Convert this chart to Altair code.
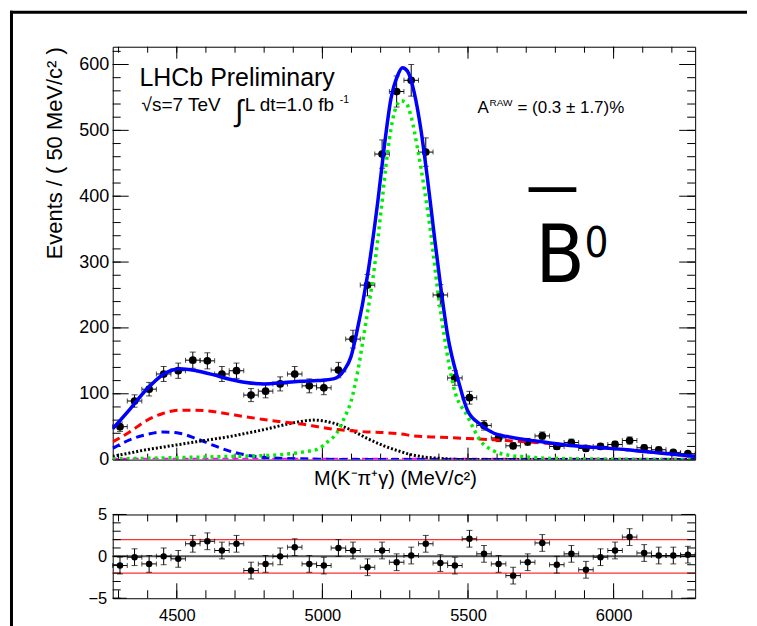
import altair as alt
import pandas as pd

# ---------------- data ----------------
bin_mass = [4305, 4355, 4405, 4455, 4505, 4555, 4605, 4655, 4705, 4755,
            4805, 4855, 4905, 4955, 5005, 5055, 5105, 5155, 5205, 5255,
            5305, 5355, 5405, 5455, 5505, 5555, 5605, 5655, 5705, 5755,
            5805, 5855, 5905, 5955, 6005, 6055, 6105, 6155, 6205, 6255]
events = [50, 89, 107, 130, 135, 151, 150, 130, 135, 98,
          104, 115, 130, 112, 109, 136, 183, 265, 464, 559,
          576, 467, 250, 124, 94, 52, 33, 21, 27, 36,
          20, 26, 17, 20, 23, 29, 18, 15, 11, 9]
events_err = [7.1, 9.4, 10.3, 11.4, 11.6, 12.3, 12.2, 11.4, 11.6, 9.9,
              10.2, 10.7, 11.4, 10.6, 10.4, 11.7, 13.5, 16.3, 21.5, 23.6,
              24.0, 21.6, 15.8, 11.1, 9.7, 7.2, 5.7, 4.6, 5.2, 6.0,
              4.5, 5.1, 4.1, 4.5, 4.8, 5.4, 4.2, 3.9, 3.3, 3.0]
pulls = [-1.1, -0.1, -0.9, 0.0, -0.3, 1.5, 1.8, 0.7, 1.5, -1.7,
         -0.9, 0.0, 1.1, -0.9, -1.1, 1.0, 0.7, -1.3, 0.7, -0.7,
         0.1, 1.5, -0.8, -1.1, 2.1, 0.3, -0.9, -2.3, -0.7, 1.6,
         -1.0, 0.3, -1.6, -0.1, 0.7, 2.3, 0.4, 0.1, 0.1, 0.2]
pull_err = [1.0] * 40
bin_half = 25

# total fit (blue solid)
total_m = [4280, 4338, 4395, 4452, 4509, 4566, 4624, 4681, 4738, 4800, 4870, 4927,
           4984, 5041, 5075, 5098, 5116, 5155, 5190, 5213, 5235, 5258, 5275, 5292,
           5315, 5338, 5361, 5384, 5407, 5430, 5468, 5498, 5544, 5589, 5635, 5703,
           5772, 5863, 5955, 6046, 6137, 6206, 6280]
total_v = [47, 76, 106, 129, 138, 135, 129, 122, 117, 115, 117, 119,
           120, 123, 136, 156, 189, 280, 391, 477, 547, 583, 595, 590,
           558, 502, 426, 341, 260, 189, 118, 75, 53, 40, 35, 30,
           26, 21, 18, 15, 11, 8, 5]
# signal (green dotted)
signal_m = [4280, 4400, 4500, 4600, 4700, 4800, 4870, 4940, 4984, 5018, 5052, 5075,
            5098, 5121, 5144, 5178, 5201, 5224, 5247, 5270, 5287, 5304, 5327, 5350,
            5373, 5395, 5418, 5452, 5498, 5544, 5589, 5635, 5703, 5772, 5900, 6280]
signal_v = [1, 2, 3, 4, 5, 6, 8, 12, 16, 27, 42, 63,
            88, 133, 194, 290, 376, 467, 527, 545, 542, 522, 472, 411,
            341, 260, 189, 108, 66, 28, 13, 7, 4, 2, 1, 0]
# red dashed background
red_m = [4280, 4338, 4395, 4452, 4509, 4566, 4624, 4681, 4738, 4783, 4813, 4870,
         4927, 4984, 5041, 5098, 5155, 5211, 5270, 5315, 5407, 5500, 5589, 5703,
         5818, 5932, 6046, 6160, 6280]
red_v = [27, 42, 59, 70, 75, 75, 73, 69, 65, 62, 60, 57,
         54, 50, 46, 44, 42, 41, 39, 36, 34, 32, 30, 27,
         23, 19, 15, 10, 5]
# blue dashed background
bdash_m = [4280, 4338, 4395, 4452, 4509, 4566, 4624, 4681, 4738, 4783, 4850, 4950, 5100, 6280]
bdash_v = [17, 30, 38, 42, 40, 32, 22, 13, 7, 4, 2, 1, 0, 0]
# black dotted background
black_m = [4280, 4338, 4395, 4452, 4509, 4566, 4624, 4681, 4738, 4783, 4813, 4870,
           4927, 4970, 5041, 5098, 5155, 5211, 5270, 5300, 5350, 5400, 5500, 6280]
black_v = [5, 10, 15, 19, 23, 27, 31, 35, 40, 44, 47, 53,
           58, 60, 55, 45, 32, 21, 12, 8, 4, 2, 0, 0]
# magenta dashed (flat, near zero)
mag_m = [4280, 6280]
mag_v = [1, 1]

main_y_major = [0, 100, 200, 300, 400, 500, 600]
main_y_minor = list(range(0, 621, 20))
x_major = [4500, 5000, 5500, 6000]
x_minor = list(range(4300, 6281, 100))
pull_y_major = [-5, 0, 5]
pull_y_minor = [-5, -4, -3, -2, -1, 0, 1, 2, 3, 4, 5]
pull_band = [-2, 2]
pull_zero = [0]

# ---------------- layout / style ----------------
W, H, PH = 584, 414, 84
FONT = "Liberation Sans"
BIGFONT = "Liberation Sans Narrow, DejaVu Sans Condensed, sans-serif"
x_scale = alt.Scale(domain=[4280, 6280], nice=False, zero=False)
y_scale = alt.Scale(domain=[0, 627], nice=False, zero=False)
py_scale = alt.Scale(domain=[-5, 5], nice=False, zero=False)

main_x_axis = alt.Axis(title="M(K⁻π⁺γ) (MeV/c²)", labels=False, ticks=False, domain=False,
                       grid=False, titleFontSize=20, titlePadding=9, titleX=283)
main_y_axis = alt.Axis(title="Events / ( 50 MeV/c² )", values=main_y_major, ticks=False,
                       domain=False, grid=False, labelFontSize=18, labelPadding=4,
                       titleFontSize=22, titleAnchor="end", titlePadding=12)
pull_x_axis = alt.Axis(title=None, values=x_major, format="d", ticks=False, domain=False,
                       grid=False, labelFontSize=16.5, labelPadding=9)
pull_y_axis = alt.Axis(title=None, values=pull_y_major, ticks=False, domain=False,
                       grid=False, labelFontSize=16.5, labelPadding=6)


def X(field, axis):
    return alt.X(field, type="quantitative", scale=x_scale, axis=axis)


def Y(field, scale, axis):
    return alt.Y(field, type="quantitative", scale=scale, axis=axis)


def curve(m, v, color, width, dash=None):
    df = pd.DataFrame({"x": m, "y": v})
    kw = dict(color=color, strokeWidth=width, interpolate="monotone", clip=True)
    if dash:
        kw["strokeDash"] = dash
    return alt.Chart(df).mark_line(**kw).encode(x=X("x", main_x_axis), y=Y("y", y_scale, main_y_axis))


def data_layers(values, errs, yscale, yaxis, xaxis, size):
    df = pd.DataFrame({"x": bin_mass, "y": values, "e": errs})
    base = alt.Chart(df).transform_calculate(
        lo="datum.y - datum.e", hi="datum.y + datum.e",
        xlo=f"datum.x - {bin_half}", xhi=f"datum.x + {bin_half}")
    vbar = base.mark_rule(color="black", strokeWidth=1).encode(
        x=X("x", xaxis), y=Y("lo", yscale, yaxis), y2="hi:Q")
    hbar = base.mark_rule(color="black", strokeWidth=1).encode(
        x=X("xlo", xaxis), x2="xhi:Q", y=Y("y", yscale, yaxis))
    cap_hi = base.mark_tick(orient="horizontal", size=6, thickness=1, color="black").encode(
        x=X("x", xaxis), y=Y("hi", yscale, yaxis))
    cap_lo = base.mark_tick(orient="horizontal", size=6, thickness=1, color="black").encode(
        x=X("x", xaxis), y=Y("lo", yscale, yaxis))
    cap_l = base.mark_tick(orient="vertical", size=5, thickness=1, color="black").encode(
        x=X("xlo", xaxis), y=Y("y", yscale, yaxis))
    cap_r = base.mark_tick(orient="vertical", size=5, thickness=1, color="black").encode(
        x=X("xhi", xaxis), y=Y("y", yscale, yaxis))
    pts = base.mark_circle(size=size, color="black", opacity=1).encode(
        x=X("x", xaxis), y=Y("y", yscale, yaxis))
    return [vbar, hbar, cap_hi, cap_lo, cap_l, cap_r, pts]


def yticks(values, length, yscale, yaxis, width):
    df = pd.DataFrame({"y": values})
    left = alt.Chart(df).mark_rule(color="black", strokeWidth=1).encode(
        y=Y("y", yscale, yaxis), x=alt.value(0), x2=alt.value(length))
    right = alt.Chart(df).mark_rule(color="black", strokeWidth=1).encode(
        y=Y("y", yscale, yaxis), x=alt.value(width), x2=alt.value(width - length))
    return [left, right]


def xticks(values, length_b, length_t, xaxis, height):
    df = pd.DataFrame({"x": values})
    bot = alt.Chart(df).mark_rule(color="black", strokeWidth=1).encode(
        x=X("x", xaxis), y=alt.value(height), y2=alt.value(height - length_b))
    top = alt.Chart(df).mark_rule(color="black", strokeWidth=1).encode(
        x=X("x", xaxis), y=alt.value(0), y2=alt.value(length_t))
    return [bot, top]


def text(x, y, s, size, font=FONT, color="black"):
    df = pd.DataFrame({"x": [x], "y": [y], "t": [s]})
    return alt.Chart(df).mark_text(align="left", baseline="alphabetic", fontSize=size,
                                   font=font, color=color).encode(
        x=X("x", main_x_axis), y=Y("y", y_scale, main_y_axis), text="t:N")


# ---------------- main panel ----------------
main_layers = []
main_layers += yticks(main_y_minor, 8, y_scale, main_y_axis, W)
main_layers += yticks(main_y_major, 16, y_scale, main_y_axis, W)
main_layers += xticks(x_minor, 6, 6, main_x_axis, H)
main_layers += xticks(x_major, 12, 12, main_x_axis, H)
main_layers += data_layers(events, events_err, y_scale, main_y_axis, main_x_axis, 60)
main_layers += [
    curve(mag_m, mag_v, "#ff00ff", 2.5, [6, 4]),
    curve(bdash_m, bdash_v, "#0000ff", 3, [8, 5]),
    curve(black_m, black_v, "#000000", 3, [2, 2]),
    curve(red_m, red_v, "#ff0000", 3, [8, 5]),
    curve(signal_m, signal_v, "#00ee00", 3.5, [3, 4]),
    curve(total_m, total_v, "#0000ff", 3.5),
]
bar_df = pd.DataFrame({"x": [5708], "x2": [5872], "y": [410]})
main_layers += [
    text(4372, 568, "LHCb Preliminary", 25),
    text(4379, 530, "√s=7 TeV", 19),
    text(4700, 514, "∫", 30),
    text(4733, 530, "L dt=1.0 fb", 19),
    text(5060, 542, "-1", 10.5),
    text(5533, 526, "A", 17),
    text(5574, 537, "RAW", 10),
    text(5670, 526, "= (0.3 ± 1.7)%", 17),
    text(5732, 270, "B", 80, font=BIGFONT),
    text(5900, 308, "0", 42, font=BIGFONT),
    alt.Chart(bar_df).mark_rule(color="black", strokeWidth=5).encode(
        x=X("x", main_x_axis), x2="x2:Q", y=Y("y", y_scale, main_y_axis)),
]
# canvas border (ROOT window frame) at the left and top edges
frame_v = alt.Chart(pd.DataFrame({"k": [0]})).mark_rule(color="black", strokeWidth=3, clip=False).encode(
    x=alt.value(-101.5), y=alt.value(-36), y2=alt.value(582))
frame_h = alt.Chart(pd.DataFrame({"k": [0]})).mark_rule(color="black", strokeWidth=3, clip=False).encode(
    y=alt.value(-34.5), x=alt.value(-103), x2=alt.value(636))
main_layers += [frame_v, frame_h]
main = alt.layer(*main_layers).properties(width=W, height=H)

# ---------------- pull panel ----------------
pull_layers = []
band_df = pd.DataFrame({"y": pull_band})
zero_df = pd.DataFrame({"y": pull_zero})
pull_layers += [
    alt.Chart(band_df).mark_rule(color="#ff3030", strokeWidth=1.2).encode(
        y=Y("y", py_scale, pull_y_axis), x=alt.value(0), x2=alt.value(W)),
    alt.Chart(zero_df).mark_rule(color="#555555", strokeWidth=2).encode(
        y=Y("y", py_scale, pull_y_axis), x=alt.value(0), x2=alt.value(W)),
]
pull_layers += yticks(pull_y_minor, 8, py_scale, pull_y_axis, W)
pull_layers += yticks(pull_y_major, 14, py_scale, pull_y_axis, W)
pull_layers += xticks(x_minor, 8, 7, pull_x_axis, PH)
pull_layers += xticks(x_major, 15, 8, pull_x_axis, PH)
pull_layers += data_layers(pulls, pull_err, py_scale, pull_y_axis, pull_x_axis, 42)
pull = alt.layer(*pull_layers).properties(width=W, height=PH)

chart = alt.vconcat(main, pull, spacing=55, bounds="flush").properties(
    padding={"left": 0, "top": 0, "right": 0, "bottom": 0},
    background="white",
).configure_view(stroke="black", strokeWidth=1).configure_axis(
    labelFont=FONT, titleFont=FONT, labelColor="black", titleColor="black",
    titleFontWeight="normal", labelFontWeight="normal")

chart.save("out.html", embed_options={"renderer": "svg", "actions": False})
